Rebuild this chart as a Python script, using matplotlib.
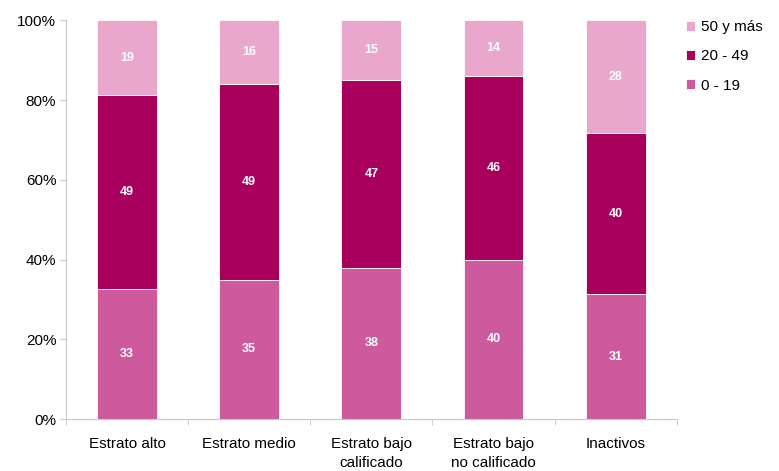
import matplotlib
matplotlib.use("Agg")
import matplotlib.pyplot as plt
import numpy as np

plt.rcParams['font.family'] = ['Liberation Sans', 'DejaVu Sans']

categories = ["Estrato alto", "Estrato medio", "Estrato bajo\ncalificado",
              "Estrato bajo\nno calificado", "Inactivos"]
series_names = ["0 - 19", "20 - 49", "50 y más"]
v_0_19 = [33, 35, 38, 40, 31]
v_20_49 = [49, 49, 47, 46, 40]
v_50 = [19, 16, 15, 14, 28]
colors = ["#cc5a9c", "#a8005c", "#e9a7cc"]

data = np.array([v_0_19, v_20_49, v_50], dtype=float)
totals = data.sum(axis=0)
pct = data / totals * 100

fig = plt.figure(figsize=(7.79, 4.71), dpi=100)
ax = fig.add_axes([0.0847, 0.110, 0.784, 0.847])
x = np.arange(len(categories))
bottom = np.zeros(len(categories))
handles = []
for i, name in enumerate(series_names):
    b = ax.bar(x, pct[i], 0.49, bottom=bottom, color=colors[i], label=name,
               edgecolor='white', linewidth=0.6)
    handles.append(b)
    for j in range(len(categories)):
        ax.text(x[j], bottom[j] + pct[i][j] / 2, f"{int(data[i][j])}",
                ha='center', va='center', color='white', fontsize=9,
                fontweight='bold')
    bottom += pct[i]

ax.set_xlim(-0.5, len(categories) - 0.5)
ax.set_ylim(0, 100)
ax.set_yticks(np.arange(0, 101, 20))
ax.set_yticklabels([f"{v}%" for v in range(0, 101, 20)], fontsize=11)
ax.set_xticks(x)
ax.set_xticklabels(categories, fontsize=11, linespacing=1.45)
ax.tick_params(axis='x', length=0, pad=13)
ax.set_xticks(np.arange(-0.5, len(categories) + 0.5, 1), minor=True)
ax.tick_params(axis='x', which='minor', length=4, color='#c8c8c8')
ax.tick_params(axis='y', length=4, color='#c8c8c8', pad=3)
for s in ['top', 'right']:
    ax.spines[s].set_visible(False)
for s in ['left', 'bottom']:
    ax.spines[s].set_color('#c8c8c8')

leg = ax.legend(handles=handles[::-1], labels=series_names[::-1],
                loc='upper left', bbox_to_anchor=(0.993, 1.035), frameon=False,
                fontsize=11, handlelength=0.6, handleheight=0.6,
                handletextpad=0.4, labelspacing=1.0)

fig.savefig("out.png", dpi=100)
